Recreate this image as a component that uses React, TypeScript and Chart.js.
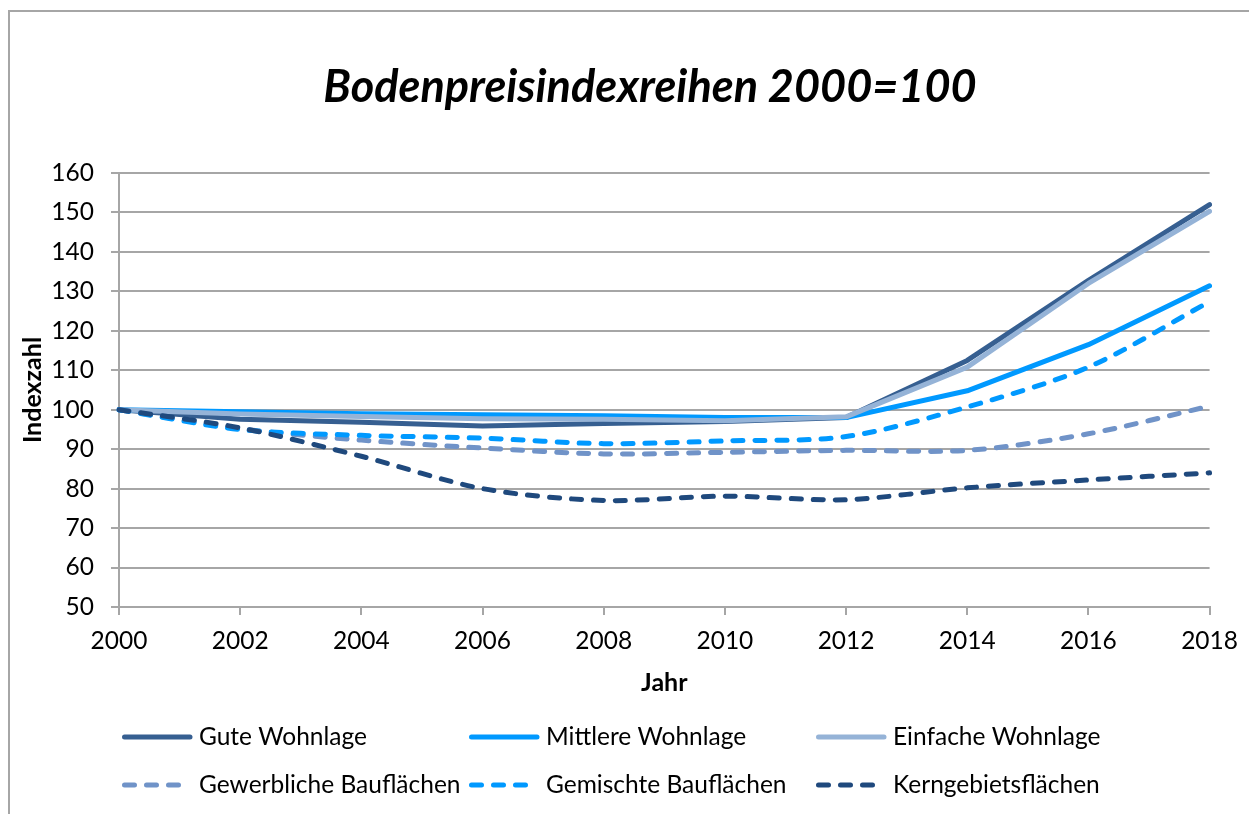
import React, { useEffect, useRef } from 'react';
import { Chart, registerables } from 'chart.js';

Chart.register(...registerables);

const years = ['2000', '2002', '2004', '2006', '2008', '2010', '2012', '2014', '2016', '2018'];

const seriesLabels = [
  'Gute Wohnlage',
  'Mittlere Wohnlage',
  'Einfache Wohnlage',
  'Gewerbliche Bauflächen',
  'Gemischte Bauflächen',
  'Kerngebietsflächen',
];

const guteWohnlage = [100, 97.6, 96.8, 95.9, 96.5, 97.0, 98.0, 112.5, 132.8, 152.0];
const mittlereWohnlage = [100, 99.5, 99.0, 98.7, 98.5, 98.0, 98.0, 104.8, 116.5, 131.4];
const einfacheWohnlage = [100, 98.9, 98.3, 97.7, 97.6, 97.2, 98.2, 110.8, 132.0, 150.3];
const gewerblicheBauflaechen = [100, 95.2, 92.3, 90.3, 88.8, 89.2, 89.7, 89.7, 93.9, 100.9];
const gemischteBauflaechen = [100, 95.0, 93.5, 92.8, 91.4, 92.1, 93.2, 100.7, 110.8, 127.4];
const kerngebietsflaechen = [100, 95.4, 88.2, 80.0, 77.0, 78.1, 77.2, 80.2, 82.2, 84.0];

const yMin = 50;
const yMax = 160;
const yStep = 10;

const chartTitle = 'Bodenpreisindexreihen 2000=100';
const yAxisTitle = 'Indexzahl';
const xAxisTitle = 'Jahr';

const FONT = 'Lato';
const GRID = '#a6a6a6';
const TICK_SIZE = 24.5;
const AXIS_TITLE_SIZE = 25;
const LEGEND_SIZE = 24.5;

const framePlugin = {
  id: 'frame',
  beforeDraw(chart: any) {
    const ctx = chart.ctx;
    ctx.save();
    ctx.fillStyle = '#ffffff';
    ctx.fillRect(0, 0, chart.width, chart.height);
    ctx.strokeStyle = '#a6a6a6';
    ctx.lineWidth = 2;
    ctx.beginPath();
    ctx.moveTo(9, chart.height);
    ctx.lineTo(9, 11);
    ctx.lineTo(chart.width, 11);
    ctx.stroke();
    ctx.restore();
  },
};

const titlePlugin = {
  id: 'centeredTitle',
  afterDraw(chart: any) {
    const ctx = chart.ctx;
    ctx.save();
    ctx.fillStyle = '#000000';
    ctx.font = `italic bold 45px ${FONT}`;
    ctx.textAlign = 'center';
    ctx.textBaseline = 'alphabetic';
    ctx.fillText(chartTitle, 650, 102);
    ctx.restore();
  },
};

const legendCols = [122, 469, 816];
const legendRows = [737, 785];

const gridLegendPlugin = {
  id: 'gridLegend',
  afterDraw(chart: any) {
    const ctx = chart.ctx;
    chart.data.datasets.forEach((ds: any, i: number) => {
      const x = legendCols[i % 3];
      const y = legendRows[Math.floor(i / 3)];
      ctx.save();
      ctx.strokeStyle = ds.borderColor;
      ctx.lineWidth = ds.borderWidth;
      ctx.lineCap = 'round';
      const dash = ds.borderDash || [];
      ctx.setLineDash(dash);
      ctx.beginPath();
      ctx.moveTo(x + 2.5, y);
      ctx.lineTo(x + (dash.length ? 60 : 68), y);
      ctx.stroke();
      ctx.setLineDash([]);
      ctx.fillStyle = '#000000';
      ctx.font = `${LEGEND_SIZE}px ${FONT}`;
      ctx.textAlign = 'left';
      ctx.textBaseline = 'middle';
      ctx.fillText(ds.label, x + 77, y);
      ctx.restore();
    });
  },
};

const colors = ['#365f91', '#0099ff', '#95b3d7', '#7093c8', '#0099ff', '#1f497d'];
const seriesData = [
  guteWohnlage,
  mittlereWohnlage,
  einfacheWohnlage,
  gewerblicheBauflaechen,
  gemischteBauflaechen,
  kerngebietsflaechen,
];

export default function App() {
  const canvasRef = useRef<HTMLCanvasElement | null>(null);

  useEffect(() => {
    if (!canvasRef.current) return;
    const datasets = seriesData.map((data, i) => {
      const dashed = i >= 3;
      return {
        label: seriesLabels[i],
        data,
        borderColor: colors[i],
        backgroundColor: colors[i],
        borderWidth: 5,
        borderDash: dashed ? [10, 12] : [],
        borderCapStyle: 'round',
        borderJoinStyle: 'round',
        pointRadius: 0,
        pointHoverRadius: 0,
        tension: dashed ? 0.3 : 0,
        fill: false,
        order: 10 - i,
      };
    });

    const chart = new Chart(canvasRef.current, {
      type: 'line',
      data: { labels: years, datasets: datasets as any },
      plugins: [framePlugin, titlePlugin, gridLegendPlugin],
      options: {
        animation: false,
        responsive: false,
        devicePixelRatio: 1,
        layout: { padding: { left: 0, top: 173, right: 38, bottom: 107 } },
        plugins: {
          legend: { display: false },
          title: { display: false },
          tooltip: { enabled: false },
        },
        scales: {
          x: {
            type: 'category',
            offset: false,
            afterFit: (scale: any) => {
              scale.height = 100;
            },
            grid: {
              display: true,
              drawOnChartArea: false,
              drawTicks: true,
              tickLength: 8,
              color: GRID,
              lineWidth: 2,
            },
            border: { display: true, color: GRID, width: 2 },
            ticks: {
              color: '#000000',
              font: { family: FONT, size: TICK_SIZE },
              padding: 11,
              maxRotation: 0,
              autoSkip: false,
            },
            title: {
              display: true,
              text: xAxisTitle,
              color: '#000000',
              font: { family: FONT, size: AXIS_TITLE_SIZE, weight: 'bold' },
              padding: { top: 0, bottom: 9 },
            },
          },
          y: {
            min: yMin,
            max: yMax,
            afterFit: (scale: any) => {
              scale.width = 119;
            },
            grid: {
              display: true,
              drawTicks: true,
              tickLength: 8,
              color: GRID,
              lineWidth: 2,
            },
            border: { display: true, color: GRID, width: 2 },
            ticks: {
              stepSize: yStep,
              color: '#000000',
              font: { family: FONT, size: TICK_SIZE },
              padding: 17,
            },
            title: {
              display: true,
              text: yAxisTitle,
              color: '#000000',
              font: { family: FONT, size: AXIS_TITLE_SIZE, weight: 'bold' },
              padding: { top: 18, bottom: 0 },
            },
          },
        },
      },
    });
    return () => chart.destroy();
  }, []);

  return (
    <div style={{ position: 'absolute', left: 0, top: 0, width: 1249, height: 814, overflow: 'hidden' }}>
      <canvas ref={canvasRef} width={1249} height={814} style={{ display: 'block', width: 1249, height: 814 }} />
    </div>
  );
}
